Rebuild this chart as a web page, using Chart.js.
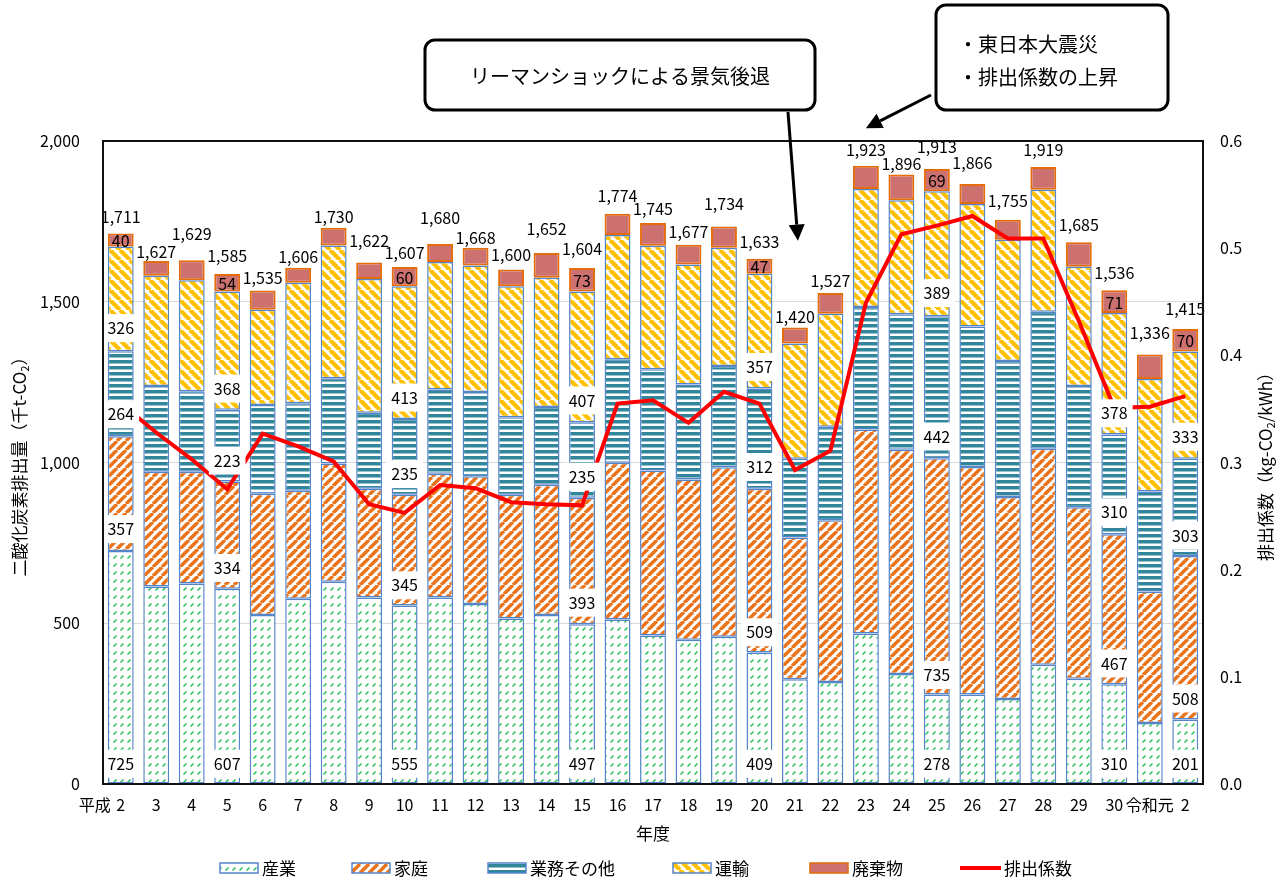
<!DOCTYPE html>
<html lang="ja">
<head>
<meta charset="utf-8">
<title>二酸化炭素排出量の推移</title>
<script src="https://cdn.jsdelivr.net/npm/chart.js@4.4.1/dist/chart.umd.min.js"></script>
<style>
  html, body { margin: 0; padding: 0; background: #fff; }
  canvas { display: block; }
</style>
</head>
<body>
<canvas id="co2Chart" width="1287" height="884"></canvas>
<script>
// 年度
const years = ['平成 2', '3', '4', '5', '6', '7', '8', '9', '10', '11', '12', '13', '14', '15', '16',
    '17', '18', '19', '20', '21', '22', '23', '24', '25', '26', '27', '28', '29', '30', '令和元', '2'];

// 部門別排出量 (千t-CO2)
const industry  = [725, 614, 624, 607, 526, 576, 629, 580, 555, 580, 560, 515, 526, 497, 512, 462,
    449, 458, 409, 326, 317, 468, 342, 278, 278, 264, 371, 327, 310, 190, 201];
const household = [357, 357, 347, 334, 377, 336, 368, 338, 345, 385, 397, 385, 405, 393, 487, 513,
    498, 527, 509, 441, 503, 635, 698, 735, 708, 629, 672, 534, 467, 409, 508];
const business  = [264, 267, 251, 223, 276, 272, 265, 237, 235, 262, 262, 241, 242, 235, 322, 315,
    296, 315, 312, 245, 291, 381, 421, 442, 437, 423, 426, 377, 310, 311, 303];
const transport = [326, 343, 345, 368, 296, 375, 413, 416, 413, 397, 394, 407, 402, 407, 387, 384,
    373, 368, 357, 358, 352, 367, 355, 389, 381, 377, 379, 371, 378, 350, 333];
const waste     = [40, 46, 62, 54, 60, 47, 55, 51, 60, 56, 55, 52, 77, 73, 66, 71,
    61, 66, 47, 50, 64, 72, 80, 69, 62, 62, 71, 76, 71, 76, 70];
const totals    = [1711, 1627, 1629, 1585, 1535, 1606, 1730, 1622, 1607, 1680, 1668, 1600, 1652, 1604, 1774, 1745,
    1677, 1734, 1633, 1420, 1527, 1923, 1896, 1913, 1866, 1755, 1919, 1685, 1536, 1336, 1415];

// 排出係数 (kg-CO2/kWh)
const emission  = [0.355, 0.328, 0.303, 0.275, 0.327, 0.315, 0.301, 0.261, 0.253, 0.279, 0.276, 0.263, 0.261, 0.260, 0.355, 0.358,
    0.337, 0.366, 0.355, 0.293, 0.311, 0.449, 0.513, 0.521, 0.530, 0.509, 0.509, 0.432, 0.351, 0.352, 0.362];

// 内訳の数値を表示する年度と、その表示位置 (左軸の値: 産業, 家庭, 業務その他, 運輸)
const labeledBars  = [0, 3, 8, 13, 18, 23, 28, 30];
const labelAnchors = [
    [63, 793, 1150, 1418],
    [63, 672, 1006, 1230],
    [63, 618, 964, 1202],
    [63, 564, 956, 1193],
    [63, 472, 986, 1297],
    [63, 339, 1081, 1527],
    [63, 375, 845, 1153],
    [63, 266, 773, 1080]
];
// 合計ラベルの棒からの持ち上げ量 (px)
const totalLift = [17, 9, 26, 18, 13, 11, 11, 22, 14, 26, 10, 15, 24, 19, 18, 14,
    13, 23, 17, 11, 12, 16, 11, 22, 21, 19, 17, 17, 17, 22, 20];

const FONT = '"Noto Sans CJK JP", "Noto Sans", sans-serif';
const BAR_BORDER = '#5585C9';

function makePattern(w, h, draw) {
    const c = document.createElement('canvas');
    c.width = w; c.height = h;
    const g = c.getContext('2d');
    g.fillStyle = '#fff';
    g.fillRect(0, 0, w, h);
    draw(g, w, h);
    return g.createPattern(c, 'repeat');
}

const industryFill = makePattern(7, 8, (g) => {
    g.strokeStyle = '#2FC060';
    g.lineWidth = 1.6;
    g.beginPath();
    g.moveTo(1.5, 6.5); g.lineTo(4.5, 3.5);
    g.stroke();
});
const householdFill = makePattern(9, 9, (g, s) => {
    g.strokeStyle = '#EA741C';
    g.lineWidth = 3.5;
    g.beginPath();
    for (let k = -1; k <= 1; k++) { g.moveTo(k * s, s); g.lineTo(k * s + s, 0); }
    g.stroke();
});
const businessFill = makePattern(6, 6, (g) => {
    g.fillStyle = '#31869B';
    g.fillRect(0, 0, 6, 3.5);
});
const transportFill = makePattern(10, 10, (g, s) => {
    g.strokeStyle = '#FFC000';
    g.lineWidth = 4.3;
    g.beginPath();
    for (let k = -1; k <= 1; k++) { g.moveTo(k * s, 0); g.lineTo(k * s + s, s); }
    g.stroke();
});
const wasteFill = '#CD7170';

const segments = [industry, household, business, transport];

const segmentLabels = {
    id: 'segmentLabels',
    afterDatasetsDraw(chart) {
        const { ctx, scales: { x, y } } = chart;
        ctx.save();
        ctx.font = '16px ' + FONT;
        ctx.textAlign = 'center';
        ctx.textBaseline = 'middle';

        labeledBars.forEach((i, k) => {
            const cx = x.getPixelForValue(i);
            labelAnchors[k].forEach((v, s) => {
                const text = String(segments[s][i]);
                const py = y.getPixelForValue(v);
                const w = ctx.measureText(text).width + 10;
                ctx.fillStyle = '#fff';
                ctx.fillRect(cx - w / 2, py - 14, w, 28);
                ctx.fillStyle = '#000';
                ctx.fillText(text, cx, py);
            });
        });

        // 廃棄物の数値 (一部の年度)
        labeledBars.forEach((i) => {
            const base = industry[i] + household[i] + business[i] + transport[i];
            ctx.fillStyle = '#000';
            ctx.fillText(String(waste[i]), x.getPixelForValue(i), y.getPixelForValue(base + waste[i] / 2) + 1);
        });

        // 合計
        years.forEach((_, i) => {
            const sum = industry[i] + household[i] + business[i] + transport[i] + waste[i];
            ctx.fillText(totals[i].toLocaleString('en-US'), x.getPixelForValue(i), y.getPixelForValue(sum) - totalLift[i]);
        });
        ctx.restore();
    },
    afterDraw(chart) {
        const { ctx, chartArea: a, scales: { x, y } } = chart;
        ctx.save();

        // 枠
        ctx.strokeStyle = '#111';
        ctx.lineWidth = 2;
        ctx.strokeRect(a.left, a.top, a.right - a.left, a.bottom - a.top);

        // 横軸ラベル
        ctx.fillStyle = '#000';
        ctx.font = '16px ' + FONT;
        ctx.textBaseline = 'middle';
        years.forEach((lab, i) => {
            const px = x.getPixelForValue(i);
            const parts = lab.split(' ');
            if (parts.length > 1) {
                ctx.textAlign = 'center';
                ctx.fillText(parts[1], px, 805);
                ctx.textAlign = 'right';
                ctx.fillText(parts[0], px - 10, 805);
            } else {
                ctx.textAlign = 'center';
                ctx.fillText(lab, px, 805);
            }
        });
        ctx.font = '17px ' + FONT;
        ctx.textAlign = 'center';
        ctx.fillText('年度', (a.left + a.right) / 2, 834);

        // 縦軸タイトル
        function vTitle(cx, cy, pre, post) {
            ctx.save();
            ctx.translate(cx, cy);
            ctx.rotate(-Math.PI / 2);
            ctx.textAlign = 'left';
            ctx.textBaseline = 'middle';
            const big = '17px ' + FONT, small = '11px ' + FONT;
            ctx.font = big; const w1 = ctx.measureText(pre).width;
            ctx.font = small; const w2 = ctx.measureText('2').width;
            ctx.font = big; const w3 = ctx.measureText(post).width;
            let sx = -(w1 + w2 + w3) / 2;
            ctx.font = big; ctx.fillText(pre, sx, 0); sx += w1;
            ctx.font = small; ctx.fillText('2', sx, 5); sx += w2;
            ctx.font = big; ctx.fillText(post, sx, 0);
            ctx.restore();
        }
        const midY = (a.top + a.bottom) / 2;
        vTitle(20, midY, '二酸化炭素排出量（千t-CO', '）');
        vTitle(1266, midY, '排出係数（kg-CO', '/kWh）');

        // 凡例
        const legendY = 868;
        const items = [
            { t: '産業', tx: 262, fill: industryFill, stroke: BAR_BORDER },
            { t: '家庭', tx: 394, fill: householdFill, stroke: BAR_BORDER },
            { t: '業務その他', tx: 530, fill: businessFill, stroke: BAR_BORDER },
            { t: '運輸', tx: 715, fill: transportFill, stroke: BAR_BORDER },
            { t: '廃棄物', tx: 852, fill: wasteFill, stroke: '#E46C0A' }
        ];
        ctx.font = '17px ' + FONT;
        ctx.textAlign = 'left';
        ctx.textBaseline = 'middle';
        items.forEach((it) => {
            ctx.fillStyle = it.fill;
            ctx.fillRect(it.tx - 42, legendY - 5, 38, 10);
            ctx.strokeStyle = it.stroke;
            ctx.lineWidth = 1.5;
            ctx.strokeRect(it.tx - 42, legendY - 5, 38, 10);
            ctx.fillStyle = '#000';
            ctx.fillText(it.t, it.tx, legendY + 1);
        });
        ctx.strokeStyle = '#FF0000';
        ctx.lineWidth = 4;
        ctx.beginPath();
        ctx.moveTo(960, legendY); ctx.lineTo(1001, legendY);
        ctx.stroke();
        ctx.fillStyle = '#000';
        ctx.fillText('排出係数', 1004, legendY + 1);

        // 吹き出し
        function box(x0, y0, x1, y1) {
            ctx.beginPath();
            ctx.roundRect(x0, y0, x1 - x0, y1 - y0, 10);
            ctx.fillStyle = '#fff';
            ctx.fill();
            ctx.lineWidth = 3;
            ctx.strokeStyle = '#000';
            ctx.stroke();
        }
        function arrow(x0, y0, x1, y1) {
            const ang = Math.atan2(y1 - y0, x1 - x0);
            const hl = 16, hw = 8;
            const bx = x1 - Math.cos(ang) * hl, by = y1 - Math.sin(ang) * hl;
            ctx.strokeStyle = '#000';
            ctx.lineWidth = 3;
            ctx.beginPath();
            ctx.moveTo(x0, y0); ctx.lineTo(bx, by);
            ctx.stroke();
            ctx.fillStyle = '#000';
            ctx.beginPath();
            ctx.moveTo(x1, y1);
            ctx.lineTo(bx + Math.sin(ang) * hw, by - Math.cos(ang) * hw);
            ctx.lineTo(bx - Math.sin(ang) * hw, by + Math.cos(ang) * hw);
            ctx.closePath();
            ctx.fill();
        }
        box(425, 40, 815, 110);
        box(936, 5, 1168, 110);
        ctx.fillStyle = '#000';
        ctx.font = '20px ' + FONT;
        ctx.textAlign = 'center';
        ctx.textBaseline = 'middle';
        ctx.fillText('リーマンショックによる景気後退', 620, 76);
        ctx.textAlign = 'left';
        ctx.fillText('・東日本大震災', 958, 44);
        ctx.fillText('・排出係数の上昇', 958, 77);

        arrow(788, 112, x.getPixelForValue(19) + 3, y.getPixelForValue(1690));
        arrow(931, 95, x.getPixelForValue(21), y.getPixelForValue(2040));

        ctx.restore();
    }
};

const ctx = document.getElementById('co2Chart').getContext('2d');
new Chart(ctx, {
    type: 'bar',
    data: {
        labels: years,
        datasets: [
            { label: '排出係数', type: 'line', data: emission, yAxisID: 'y1', order: 0,
              borderColor: '#FF0000', borderWidth: 4, pointRadius: 0, fill: false, tension: 0 },
            { label: '産業', data: industry, backgroundColor: industryFill, order: 1 },
            { label: '家庭', data: household, backgroundColor: householdFill, order: 1 },
            { label: '業務その他', data: business, backgroundColor: businessFill, order: 1 },
            { label: '運輸', data: transport, backgroundColor: transportFill, order: 1 },
            { label: '廃棄物', data: waste, backgroundColor: wasteFill, borderColor: '#E46C0A', borderWidth: 2, order: 1 }
        ]
    },
    options: {
        responsive: false,
        animation: false,
        layout: { padding: { top: 141, left: 0, right: 0, bottom: 0 } },
        datasets: {
            bar: {
                barPercentage: 0.73,
                categoryPercentage: 1,
                borderColor: BAR_BORDER,
                borderWidth: 1.5,
                borderSkipped: false
            }
        },
        plugins: {
            legend: { display: false },
            tooltip: { enabled: false }
        },
        scales: {
            x: {
                stacked: true,
                grid: { display: false },
                border: { display: false },
                ticks: { display: false },
                afterFit: (s) => { s.height = 100; }
            },
            y: {
                stacked: true,
                min: 0,
                max: 2000,
                grid: { color: '#D9D9D9', drawTicks: false },
                border: { display: false },
                ticks: {
                    stepSize: 500,
                    padding: 23,
                    color: '#000',
                    font: { family: FONT, size: 16 },
                    callback: (v) => v.toLocaleString('en-US')
                },
                afterFit: (s) => { s.width = 103; }
            },
            y1: {
                position: 'right',
                min: 0,
                max: 0.6,
                grid: { display: false, drawTicks: false },
                border: { display: false },
                ticks: {
                    stepSize: 0.1,
                    padding: 17,
                    color: '#000',
                    font: { family: FONT, size: 16 },
                    callback: (v) => v.toFixed(1)
                },
                afterFit: (s) => { s.width = 84; }
            }
        }
    },
    plugins: [segmentLabels]
});
</script>
</body>
</html>
